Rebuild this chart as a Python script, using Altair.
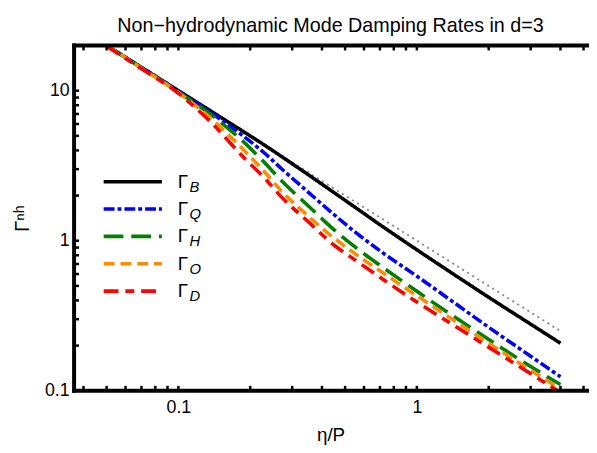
import altair as alt
import pandas as pd

# ---- data ----
eta_p = [0.05, 0.07, 0.1, 0.135, 0.19, 0.23, 0.27, 0.35, 0.45, 0.55, 0.7, 1.0, 1.5, 2.0, 3.0, 4.0]
gamma_B = [20, 14.29, 10, 7.41, 5.26, 4.33, 3.65, 2.757, 2.089, 1.673, 1.279, 0.87, 0.567, 0.42, 0.278, 0.2075]
gamma_Q = [20, 14.29, 9.95, 7.26, 4.89, 3.83, 3.03, 2.11, 1.49, 1.145, 0.857, 0.58, 0.367, 0.265, 0.17, 0.124]
gamma_H = [20, 14.2, 9.8, 7.04, 4.47, 3.31, 2.52, 1.71, 1.18, 0.91, 0.686, 0.46, 0.297, 0.22, 0.145, 0.11]
gamma_O = [20, 14.14, 9.7, 6.67, 3.95, 2.87, 2.15, 1.46, 1.04, 0.82, 0.63, 0.43, 0.28, 0.2075, 0.137, 0.1025]
gamma_D = [19.8, 14.0, 9.6, 6.3, 3.52, 2.61, 1.96, 1.34, 0.933, 0.745, 0.571, 0.39, 0.26, 0.195, 0.13, 0.0975]
ref_x = [0.05, 4.0]
ref_y = [20, 0.25]

series_keys = ["B", "Q", "H", "O", "D"]
series_vals = [gamma_B, gamma_Q, gamma_H, gamma_O, gamma_D]
series_colors = ["#000000", "#0000FF", "#008000", "#FF8C00", "#FF0000"]
series_dashes = [[1, 0], [11, 3, 4, 3], [20, 8], [11, 6], [15, 7, 9, 7]]

x_tick_vals = [0.04, 0.05, 0.06, 0.07, 0.08, 0.09, 0.1, 0.2, 0.3, 0.4, 0.5, 0.6, 0.7, 0.8, 0.9, 1, 2, 3, 4, 5]
y_tick_vals = [0.2, 0.3, 0.4, 0.5, 0.6, 0.7, 0.8, 0.9, 1, 2, 3, 4, 5, 6, 7, 8, 9, 10]
x_label_vals = [0.1, 1]
y_label_vals = [0.1, 1, 10]

FONT = "Liberation Sans"
W, H = 520, 350

xscale = alt.Scale(type="log", domain=[0.03652, 5.17], nice=False)
yscale = alt.Scale(type="log", domain=[0.1, 20], nice=False)

xaxis = alt.Axis(orient="bottom", values=x_label_vals, format="~g", ticks=False, tickSize=0,
                 domain=False, grid=False, labelFontSize=18, labelFont=FONT, labelColor="black",
                 labelPadding=8, title="η/P", titleFont=FONT, titleFontSize=19,
                 titleFontWeight="normal", titleColor="black", titlePadding=9)
yaxis = alt.Axis(orient="left", values=y_label_vals, format="~g", ticks=False, tickSize=0,
                 domain=False, grid=False, labelFontSize=18, labelFont=FONT, labelColor="black",
                 labelPadding=5, title="Γⁿʰ", titleFont=FONT, titleFontSize=21,
                 titleFontWeight="normal", titleColor="black", titlePadding=12)

layers = []

# gray dotted reference line
ref_df = pd.DataFrame({"x": ref_x, "y": ref_y})
layers.append(alt.Chart(ref_df).mark_line(clip=True, color="#8c8c8c", strokeWidth=2,
                                          strokeDash=[2, 4]).encode(
    x=alt.X("x:Q", scale=xscale, axis=xaxis),
    y=alt.Y("y:Q", scale=yscale, axis=yaxis)))

for key, vals, col, dash in zip(series_keys, series_vals, series_colors, series_dashes):
    d = pd.DataFrame({"x": eta_p, "y": vals})
    layers.append(alt.Chart(d).mark_line(clip=True, color=col, strokeWidth=3.6,
                                         strokeDash=dash, interpolate="monotone").encode(
        x=alt.X("x:Q", scale=xscale, axis=xaxis),
        y=alt.Y("y:Q", scale=yscale, axis=None)))

# inward tick marks
xt = pd.DataFrame({"v": x_tick_vals})
yt = pd.DataFrame({"v": y_tick_vals})
layers.append(alt.Chart(xt).mark_rule(color="black", strokeWidth=2.5).encode(
    x=alt.X("v:Q", scale=xscale, axis=xaxis), y=alt.value(0), y2=alt.value(5)))
layers.append(alt.Chart(xt).mark_rule(color="black", strokeWidth=2.5).encode(
    x=alt.X("v:Q", scale=xscale, axis=xaxis), y=alt.value(H), y2=alt.value(H - 5)))
layers.append(alt.Chart(yt).mark_rule(color="black", strokeWidth=2.5).encode(
    y=alt.Y("v:Q", scale=yscale, axis=None), x=alt.value(0), x2=alt.value(5)))

# frame lines (left, top, bottom)
one = pd.DataFrame({"a": [0]})
layers.append(alt.Chart(one).mark_rule(color="black", strokeWidth=4).encode(
    x=alt.value(-2), x2=alt.value(W + 10), y=alt.value(0)))
layers.append(alt.Chart(one).mark_rule(color="black", strokeWidth=4).encode(
    x=alt.value(-2), x2=alt.value(W + 10), y=alt.value(H)))
layers.append(alt.Chart(one).mark_rule(color="black", strokeWidth=4).encode(
    x=alt.value(0), y=alt.value(-2), y2=alt.value(H + 2)))

# legend
leg = pd.DataFrame({"s": series_keys, "row": list(range(len(series_keys))),
                    "g": ["Γ"] * len(series_keys)})
row_scale = alt.Scale(domain=[0, 4], range=[138, 249])
layers.append(alt.Chart(leg).mark_rule(strokeWidth=3.6).encode(
    x=alt.value(30), x2=alt.value(89),
    y=alt.Y("row:Q", scale=row_scale, axis=None),
    color=alt.Color("s:N", scale=alt.Scale(domain=series_keys, range=series_colors), legend=None),
    strokeDash=alt.StrokeDash("s:N", scale=alt.Scale(domain=series_keys, range=series_dashes), legend=None)))
layers.append(alt.Chart(leg).mark_text(align="left", baseline="middle", fontSize=19,
                                       font=FONT, color="black").encode(
    x=alt.value(105), y=alt.Y("row:Q", scale=row_scale, axis=None), text="g:N"))
layers.append(alt.Chart(leg).mark_text(align="left", baseline="middle", fontSize=15,
                                       font=FONT, fontStyle="italic", color="black", dy=5).encode(
    x=alt.value(117), y=alt.Y("row:Q", scale=row_scale, axis=None), text="s:N"))

chart = alt.layer(*layers).resolve_scale(y="independent").properties(
    width=W, height=H,
    autosize=alt.AutoSizeParams(type="none"),
    padding={"left": 67, "top": 35, "right": 2, "bottom": 57},
    title=alt.TitleParams("Non−hydrodynamic Mode Damping Rates in d=3", fontSize=20,
                          font=FONT, fontWeight="normal", color="black",
                          anchor="middle", offset=6),
).configure_view(stroke=None).configure_axis(grid=False)

chart.save("out.html", embed_options={"renderer": "svg", "actions": False})
